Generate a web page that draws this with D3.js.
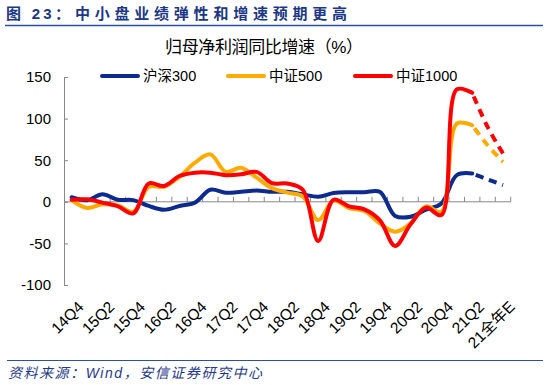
<!DOCTYPE html>
<html><head><meta charset="utf-8">
<script src="https://cdn.jsdelivr.net/npm/d3@7"></script>
<style>
body{margin:0;background:#fff;}
text{font-family:"Liberation Sans","Noto Sans CJK SC",Arial,sans-serif;}
</style></head>
<body>
<svg id="c" width="550" height="385"></svg>
<script>
const categories = ["14Q4","15Q1","15Q2","15Q3","15Q4","16Q1","16Q2","16Q3","16Q4","17Q1","17Q2","17Q3","17Q4","18Q1","18Q2","18Q3","18Q4","19Q1","19Q2","19Q3","19Q4","20Q1","20Q2","20Q3","20Q4","21Q1","21Q2","21Q3E","21全年E"];
const tickLabels = ["14Q4","15Q2","15Q4","16Q2","16Q4","17Q2","17Q4","18Q2","18Q4","19Q2","19Q4","20Q2","20Q4","21Q2","21全年E"];
const seriesNames = ["沪深300","中证500","中证1000"];
const hs300  = [5.5,2,9,2.5,2,-5,-9.5,-5,-1,14.5,11,12,13.5,12,12,9,6,10.5,11.5,11.5,12,-17,-18,-9.5,-2,32,34,27,20];
const zz500  = [2,-7.5,-3,-4.5,-12,18,18,30,47,57,36,41,29,16.5,11,6.5,-22,1.5,-7.5,-11,-26,-36,-26,-5.5,-12,94,92,68,48];
const zz1000 = [2.5,3,-1,-5.5,-14,22,19,31,35,35,32,33,36,22.5,22,14.5,-47,2.5,-5.5,-9,-22,-53,-27,-7,-16,135,131,90,58];
const actualEnd = 26; // last actual index; after it values are forecasts (dashed)
const yTicks = [-100,-50,0,50,100,150];
const colors = ["#0D2A8E","#FFAA00","#FF0000"];

const svg = d3.select("#c");
const x = d3.scaleBand().domain(categories).range([64, 510.7]);
const y = d3.scaleLinear().domain([-100,150]).range([285, 77]);
const cx = c => x(c) + x.bandwidth()/2;

// header
svg.append("text").attr("x",6).attr("y",19).attr("font-size",15).attr("font-weight","bold")
  .attr("fill","#1B3786").attr("textLength",64).attr("lengthAdjust","spacing").text("图 23：");
svg.append("text").attr("x",75).attr("y",19).attr("font-size",15).attr("font-weight","bold")
  .attr("fill","#1B3786").attr("textLength",272).attr("lengthAdjust","spacing")
  .text("中小盘业绩弹性和增速预期更高");
svg.append("line").attr("x1",5).attr("x2",543).attr("y1",25.5).attr("y2",25.5)
  .attr("stroke","#2B4FA8").attr("stroke-width",1.5);

// chart title
svg.append("text").attr("x",165).attr("y",53).attr("font-size",17)
  .attr("textLength",198).attr("lengthAdjust","spacing")
  .attr("fill","#000").text("归母净利润同比增速（%）");

// y axis
const gy = svg.append("g").attr("transform","translate(64,0)")
  .call(d3.axisLeft(y).tickValues(yTicks).tickSize(-4).tickPadding(13).tickFormat(d => String(d)));
gy.select(".domain").attr("stroke","#888");
gy.selectAll(".tick line").attr("stroke","#888");
gy.selectAll(".tick text").attr("font-size",15).attr("fill","#000")
  .attr("font-family","'Liberation Sans',Arial,sans-serif");

// x axis at zero
const bounds = categories.map(c => x(c) + x.bandwidth());
const gx = svg.append("g");
gx.append("line").attr("x1",64).attr("x2",510.7).attr("y1",y(0)).attr("y2",y(0)).attr("stroke","#888");
gx.selectAll("line.t").data(bounds).join("line").attr("class","t")
  .attr("x1",d=>d).attr("x2",d=>d).attr("y1",y(0)).attr("y2",y(0)-5).attr("stroke","#888");

// x labels
svg.append("g").selectAll("text").data(tickLabels).join("text")
  .attr("transform", d => `translate(${cx(d)+5},${300}) rotate(-45)`)
  .attr("text-anchor","end").attr("dy","0.71em").attr("font-size",15.5).attr("fill","#000")
  .text(d=>d);

// lines
const data = [hs300, zz500, zz1000];
const line = d3.line().x(d=>cx(d.c)).y(d=>y(d.v)).curve(d3.curveCatmullRom.alpha(0.5));
data.forEach((arr,i) => {
  const pts = arr.map((v,j)=>({c:categories[j], v}));
  svg.append("path").datum(pts.slice(0, actualEnd+1)).attr("d",line)
    .attr("fill","none").attr("stroke",colors[i]).attr("stroke-width",4)
    .attr("stroke-linejoin","round").attr("stroke-linecap","round");
  svg.append("path").datum(pts.slice(actualEnd)).attr("d",line)
    .attr("fill","none").attr("stroke",colors[i]).attr("stroke-width",4)
    .attr("stroke-dasharray","8,6").attr("stroke-dashoffset",-4);
});

// legend
const legX = [102, 228, 355];
const lg = svg.append("g");
seriesNames.forEach((n,i)=>{
  lg.append("line").attr("x1",legX[i]).attr("x2",legX[i]+36).attr("y1",76).attr("y2",76)
    .attr("stroke",colors[i]).attr("stroke-width",4).attr("stroke-linecap","round");
  lg.append("text").attr("x",legX[i]+41).attr("y",81).attr("font-size",14.5).attr("fill","#000").text(n);
});

// footer
svg.append("line").attr("x1",7).attr("x2",543).attr("y1",360.5).attr("y2",360.5)
  .attr("stroke","#2B4FA8").attr("stroke-width",1);
svg.append("text").attr("x",8).attr("y",378).attr("font-size",14).attr("font-style","italic")
  .attr("fill","#1F3A8A").attr("textLength",254).attr("lengthAdjust","spacing")
  .text("资料来源：Wind，安信证券研究中心");
</script>
</body></html>
